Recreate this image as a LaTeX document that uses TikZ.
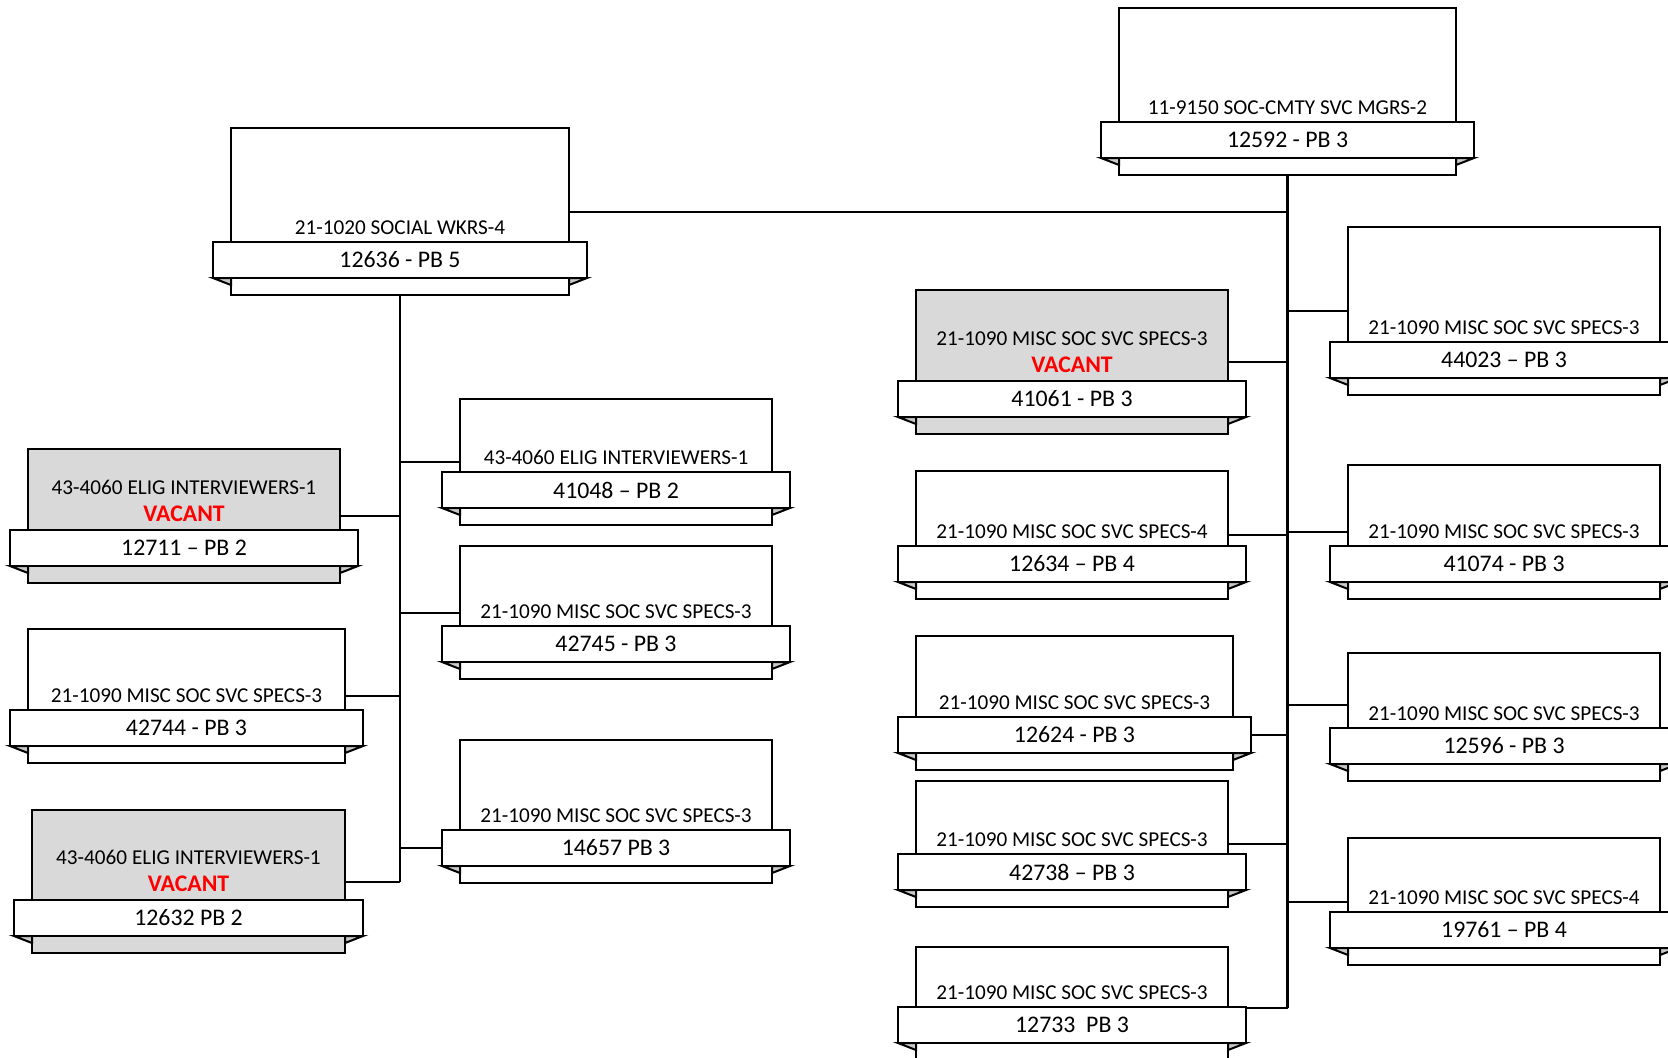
\documentclass[tikz,border=0pt]{standalone}
\usepackage{fontspec}
\setmainfont{Carlito}
\usetikzlibrary{fit}
\definecolor{vacgray}{HTML}{D9D9D9}
\definecolor{foldgray}{HTML}{C8C8C8}
\tikzset{
	posrect/.style={draw, line width=1pt, inner sep=0pt},
	link/.style={line width=1pt},
	trunk/.style={line width=1.4pt},
	titletext/.style={font=\fontsize{10.6}{12}\selectfont, inner sep=0pt, anchor=base},
	codetext/.style={font=\fontsize{11.9}{14}\selectfont, inner sep=0pt},
	vactext/.style={font=\bfseries\fontsize{11.9}{14}\selectfont, text=red, inner sep=0pt, anchor=base},
}
% #1 name, #2 left, #3 right, #4 top, #5 banner top, #6 vacant, #7 title, #8 code
\newcommand{\posbox}[8]{
	\ifnum#6=1 \def\posfill{vacgray}\def\titlelift{17.5pt}\else\def\posfill{white}\def\titlelift{3.5pt}\fi
	\node[posrect, fill=\posfill, fit={(#2,#4) (#3,#5+53)}] (#1) {};
	\filldraw[line width=1pt, fill=foldgray] (#2-18,#5+36) -- (#2,#5+43) -- (#2,#5+36) -- cycle;
	\filldraw[line width=1pt, fill=foldgray] (#3+18,#5+36) -- (#3,#5+43) -- (#3,#5+36) -- cycle;
	\node[posrect, fill=white, fit={(#2-18,#5) (#3+18,#5+36)}] (#1b) {};
	\node[codetext] (#1c) at (#1b.center) {#8};
	\node[titletext] (#1t) at ([yshift=\titlelift]#1b.north) {#7};
	\ifnum#6=1 \node[vactext] (#1v) at ([yshift=3.6pt]#1b.north) {VACANT};\fi
}

\begin{document}
\begin{tikzpicture}[x=0.5pt, y=-0.5pt]
		%%%%% START %%%%%
		\useasboundingbox (0,0) rectangle (1668,1057);
		\clip (0,0) rectangle (1668,1057);
		
		% top
		\posbox{mgr}{1119}{1456}{8}{122}{0}{11-9150 SOC-CMTY SVC MGRS-2}{12592 - PB 3}
		\posbox{soc}{231}{569}{128}{242}{0}{21-1020 SOCIAL WKRS-4}{12636 - PB 5}
		
		% left group
		\posbox{e41048}{460}{772}{399}{472}{0}{43-4060 ELIG INTERVIEWERS-1}{41048 -- PB 2}
		\posbox{v12711}{28}{340}{449}{530}{1}{43-4060 ELIG INTERVIEWERS-1}{12711 -- PB 2}
		\posbox{s42745}{460}{772}{546}{626}{0}{21-1090 MISC SOC SVC SPECS-3}{42745 - PB 3}
		\posbox{s42744}{28}{345}{629}{710}{0}{21-1090 MISC SOC SVC SPECS-3}{42744 - PB 3}
		\posbox{s14657}{460}{772}{740}{830}{0}{21-1090 MISC SOC SVC SPECS-3}{14657 PB 3}
		\posbox{v12632}{32}{345}{810}{900}{1}{43-4060 ELIG INTERVIEWERS-1}{12632 PB 2}
		
		% middle column
		\posbox{v41061}{916}{1228}{290}{381}{1}{21-1090 MISC SOC SVC SPECS-3}{41061 - PB 3}
		\posbox{s12634}{916}{1228}{471}{546}{0}{21-1090 MISC SOC SVC SPECS-4}{12634 -- PB 4}
		\posbox{s12624}{916}{1233}{636}{717}{0}{21-1090 MISC SOC SVC SPECS-3}{12624 - PB 3}
		\posbox{s42738}{916}{1228}{781}{854}{0}{21-1090 MISC SOC SVC SPECS-3}{42738 -- PB 3}
		\posbox{s12733}{916}{1228}{947}{1007}{0}{21-1090 MISC SOC SVC SPECS-3}{12733\ \ PB 3}
		
		% right column
		\posbox{s44023}{1348}{1660}{227}{342}{0}{21-1090 MISC SOC SVC SPECS-3}{44023 -- PB 3}
		\posbox{s41074}{1348}{1660}{465}{546}{0}{21-1090 MISC SOC SVC SPECS-3}{41074 - PB 3}
		\posbox{s12596}{1348}{1660}{653}{728}{0}{21-1090 MISC SOC SVC SPECS-3}{12596 - PB 3}
		\posbox{s19761}{1348}{1660}{838}{912}{0}{21-1090 MISC SOC SVC SPECS-4}{19761 -- PB 4}
		
		% connectors left
		\draw[link] (soc.east) -- (mgr.south |- soc.east);
		\draw[trunk] (soc.south) -- (soc.south |- v12632.east);
		\foreach \n in {e41048,s42745} \draw[link] (soc.south |- \n.west) -- (\n.west);
		\foreach \n in {v12711,s42744,v12632} \draw[link] (\n.east) -- (soc.south |- \n.east);
		\draw[link] (soc.south |- s14657b.west) -- (s14657b.west);
		
		% connectors right
		\foreach \n in {s44023,s41074,s19761} \draw[link] (mgr.south |- \n.west) -- (\n.west);
		\draw[link] ([yshift=5.8pt]s12596.west) coordinate (c12596) -- (mgr.south |- c12596);
		\foreach \n in {v41061,s12634,s42738} \draw[link] (\n.east) -- (mgr.south |- \n.east);
		\draw[link] (s12624b.east) -- (mgr.south |- s12624b.east);
		\draw[link] ([yshift=-1pt]s12733b.north east) coordinate (c12733) -- (mgr.south |- c12733);
		\draw[trunk] (mgr.south) -- (mgr.south |- c12733);
		
		%%%%% END %%%%%
\end{tikzpicture}
\end{document}
